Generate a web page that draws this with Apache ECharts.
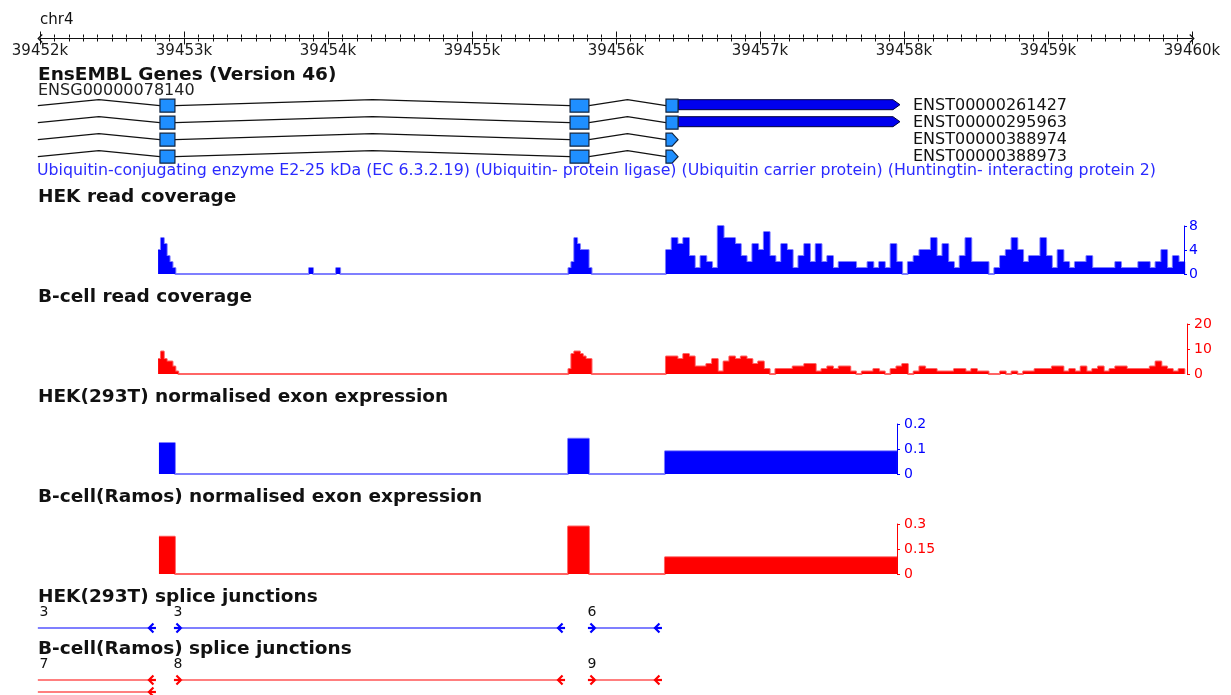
<!DOCTYPE html>
<html>
<head>
<meta charset="utf-8">
<script src="https://cdn.jsdelivr.net/npm/echarts/dist/echarts.min.js"></script>
<style>
html, body { margin: 0; padding: 0; background: #fff; }
#main { width: 1231px; height: 695px; }
</style>
</head>
<body>
<div id="main"></div>
<script>
// genomic window on chr4
var viewStart = 39452000;
var viewEnd = 39460000;

// EnsEMBL gene model
var geneId = 'ENSG00000078140';
var geneDesc = 'Ubiquitin-conjugating enzyme E2-25 kDa (EC 6.3.2.19) (Ubiquitin- protein ligase) (Ubiquitin carrier protein) (Huntingtin- interacting protein 2)';
var transcripts = ['ENST00000261427', 'ENST00000295963', 'ENST00000388974', 'ENST00000388973'];
var txStart = 39451985;
var exonStarts = [39452833, 39455681, 39456347];
var exonEnds = [39452937, 39455812, 39456431];
var utrEnds = [39457972, 39457972, null, null];

// read coverage, stored as runs of fixed-size bins
var hekCovStarts = [39452820, 39453868, 39454056, 39455670, 39456347];
var hekCovBins = [20, 28, 28, 20, 40];
var hekCovValues = [
  [4, 6, 5, 3, 2, 1],
  [1],
  [1],
  [1, 2, 6, 5, 4, 4, 4, 1],
  [4, 6, 5, 6, 3, 1, 3, 2, 1, 8, 6, 6, 5, 3, 2, 5, 4, 7, 3, 2,
   5, 4, 1, 3, 5, 2, 5, 2, 3, 1, 2, 2, 2, 1, 1, 2, 1, 2, 1, 5,
   2, 0, 2, 3, 4, 4, 6, 3, 5, 2, 1, 3, 6, 2, 2, 2, 0, 1, 3, 4,
   6, 4, 2, 3, 3, 6, 3, 1, 4, 2, 1, 2, 2, 3, 1, 1, 1, 1, 2, 1,
   1, 1, 2, 2, 1, 2, 4, 1, 3, 2]
];
var bcellCovStarts = [39452820, 39455670, 39456347];
var bcellCovBins = [20, 20, 40];
var bcellCovValues = [
  [6, 9, 6, 5, 5, 3, 1],
  [2, 8, 9, 9, 8, 7, 6, 6],
  [7, 7, 6, 8, 7, 3, 3, 4, 6, 1, 5, 7, 6, 7, 6, 4, 5, 2, 0, 2,
   2, 2, 3, 3, 4, 4, 1, 2, 3, 2, 3, 3, 1, 0, 1, 1, 2, 1, 0, 2,
   3, 4, 0, 1, 3, 2, 2, 1, 1, 1, 2, 2, 1, 2, 1, 1, 0, 0, 1, 0,
   1, 0, 1, 1, 2, 2, 2, 3, 3, 1, 2, 1, 3, 1, 2, 3, 1, 2, 3, 3,
   2, 2, 2, 2, 3, 5, 3, 2, 1, 2]
];

// normalised exon expression
var exprStarts = [39452826, 39455667, 39456340];
var exprEnds = [39452937, 39455812, 39457951];
var hekExpr = [0.124, 0.141, 0.091];
var bcellExpr = [0.224, 0.285, 0.1];

// splice junctions: [donor, acceptor, read count, stack row]
var hekJunctions = [
  [39451985, 39452826, 3, 0],
  [39452937, 39455667, 3, 0],
  [39455812, 39456340, 6, 0]
];
var bcellJunctions = [
  [39451985, 39452826, 7, 0],
  [39451985, 39452826, '-', 1],
  [39452937, 39455667, 8, 0],
  [39455812, 39456340, 9, 0]
];

var FONT = 'DejaVu Sans';
var BLUE = '#0000ff';
var RED = '#ff0000';

function stepPoints(starts, bins, values) {
  var pts = [];
  for (var r = 0; r < starts.length; r++) {
    for (var i = 0; i < values[r].length; i++) {
      pts.push([starts[r] + i * bins[r], values[r][i]]);
    }
    pts.push([starts[r] + values[r].length * bins[r], 0]);
  }
  return pts;
}

function exprPoints(vals) {
  var pts = [];
  for (var i = 0; i < vals.length; i++) {
    pts.push([exprStarts[i], vals[i]]);
    pts.push([exprEnds[i], 0]);
  }
  return pts;
}

function grid(top, height) {
  return { left: 40, width: 1152, top: top, height: height };
}

function hiddenX(g) {
  return { type: 'value', gridIndex: g, min: viewStart, max: viewEnd, show: false };
}

function trackY(g, max, interval, color, offset, margin) {
  return {
    type: 'value', gridIndex: g, min: 0, max: max, interval: interval,
    position: 'right', offset: offset,
    axisLine: { show: true, lineStyle: { color: color, width: 1 } },
    axisTick: { show: true, length: 3, lineStyle: { color: color } },
    axisLabel: { color: color, fontSize: 14, fontFamily: FONT, margin: margin },
    splitLine: { show: false }
  };
}

function heading(text, top, opts) {
  var o = opts || {};
  return {
    text: text, left: o.left || 38, top: top, padding: 0,
    textStyle: {
      fontFamily: FONT, fontSize: o.size || 18.5,
      fontWeight: o.weight || 'bold', color: o.color || '#111'
    }
  };
}

function coverageSeries(xi, yi, pts, color, lineColor) {
  return {
    type: 'line', xAxisIndex: xi, yAxisIndex: yi, data: pts, step: 'end',
    symbol: 'none', silent: true,
    lineStyle: { color: lineColor, width: 2 },
    areaStyle: { color: color, opacity: 1 }
  };
}

function renderTranscript(params, api) {
  var row = api.value(0);
  var yc = api.coord([viewStart, row])[1];
  var X = function (g) { return api.coord([g, row])[0]; };
  var kids = [];
  var prev = txStart;
  for (var k = 0; k < exonStarts.length; k++) {
    var a = X(prev), s = X(exonStarts[k]);
    kids.push({
      type: 'polyline',
      shape: { points: [[a, yc], [(a + s) / 2, yc - 6], [s, yc]] },
      style: { stroke: '#111', lineWidth: 1.2, fill: null }
    });
    prev = exonEnds[k];
  }
  var utr = utrEnds[params.dataIndex];
  if (utr) {
    var u0 = X(exonEnds[exonEnds.length - 1]), u1 = X(utr);
    kids.push({
      type: 'polygon',
      shape: { points: [[u0, yc - 6], [u1 - 7, yc - 6], [u1, yc - 1], [u1 - 7, yc + 4], [u0, yc + 4]] },
      style: { fill: '#0000ee', stroke: '#00003a', lineWidth: 1 }
    });
  }
  for (var j = 0; j < exonStarts.length; j++) {
    var x0 = X(exonStarts[j]), x1 = X(exonEnds[j]);
    var last = j === exonStarts.length - 1;
    if (last && !utr) {
      kids.push({
        type: 'polygon',
        shape: { points: [[x0, yc - 6.5], [x1 - 6, yc - 6.5], [x1, yc], [x1 - 6, yc + 6.5], [x0, yc + 6.5]] },
        style: { fill: '#1f8fff', stroke: '#12243f', lineWidth: 1.2 }
      });
    } else {
      kids.push({
        type: 'rect',
        shape: { x: x0, y: yc - 6.5, width: x1 - x0, height: 13 },
        style: { fill: '#1f8fff', stroke: '#12243f', lineWidth: 1.2 }
      });
    }
  }
  return { type: 'group', children: kids };
}

function junctionRenderer(lineColor, arrowColor) {
  return function (params, api) {
    var d = api.value(0), a = api.value(1), n = api.value(2), row = api.value(3);
    var y = api.coord([viewStart, row])[1];
    var xMin = api.coord([viewStart, row])[0];
    var xd = api.coord([d, row])[0], xa = api.coord([a, row])[0];
    var startShown = xd >= xMin;
    var lineStart = startShown ? xd + 7 : Math.max(xd, xMin - 3);
    var kids = [{
      type: 'line',
      shape: { x1: lineStart, y1: y, x2: xa - 10, y2: y },
      style: { stroke: lineColor, lineWidth: 2 }
    }, {
      type: 'polyline',
      shape: { points: [[xa - 5.5, y - 4.5], [xa - 10, y], [xa - 5.5, y + 4.5]] },
      style: { stroke: arrowColor, lineWidth: 2.2, fill: null }
    }, {
      type: 'line',
      shape: { x1: xa - 10, y1: y, x2: xa - 3, y2: y },
      style: { stroke: arrowColor, lineWidth: 2.2 }
    }];
    if (startShown) {
      kids.push({
        type: 'polyline',
        shape: { points: [[xd + 1.5, y - 4.5], [xd + 6, y], [xd + 1.5, y + 4.5]] },
        style: { stroke: arrowColor, lineWidth: 2.2, fill: null }
      }, {
        type: 'line',
        shape: { x1: xd - 1, y1: y, x2: xd + 6, y2: y },
        style: { stroke: arrowColor, lineWidth: 2.2 }
      });
    }
    if (!isNaN(n)) {
      kids.push({
        type: 'text',
        style: {
          text: String(n), x: startShown ? xd + 3 : lineStart + 6, y: y - 16,
          align: 'center', verticalAlign: 'middle',
          fill: '#111', font: '14px "DejaVu Sans"'
        }
      });
    }
    return { type: 'group', children: kids };
  };
}

var chart = echarts.init(document.getElementById('main'));

var chevron = 'path://M0,10 L10,0 L20,10 L18,12 L10,4 L2,12 Z';

chart.setOption({
  animation: false,
  backgroundColor: '#fff',
  title: [
    heading('chr4', 12.5, { size: 15, weight: 'normal', left: 40 }),
    heading('EnsEMBL Genes (Version 46)', 65.5),
    heading(geneId, 82.5, { size: 16, weight: 'normal', color: '#222' }),
    heading(geneDesc, 162.5, { size: 15.8, weight: 'normal', color: '#2a2aff', left: 37 }),
    heading('HEK read coverage', 188),
    heading('B-cell read coverage', 288),
    heading('HEK(293T) normalised exon expression', 388),
    heading('B-cell(Ramos) normalised exon expression', 488),
    heading('HEK(293T) splice junctions', 588),
    heading('B-cell(Ramos) splice junctions', 640)
  ],
  grid: [
    grid(37.5, 1),
    grid(97.2, 68),
    grid(226, 48),
    grid(324, 50),
    grid(424, 50),
    grid(524, 50),
    grid(628, 12),
    grid(680, 12)
  ],
  xAxis: [
    {
      type: 'value', gridIndex: 0, min: viewStart, max: viewEnd, interval: 1000,
      position: 'bottom',
      axisLine: {
        show: true, lineStyle: { color: '#111', width: 1 },
        symbol: [chevron, chevron], symbolSize: [9, 6]
      },
      axisTick: { show: true, length: 6, lineStyle: { color: '#111' } },
      minorTick: { show: true, splitNumber: 10, length: 3, lineStyle: { color: '#111' } },
      axisLabel: {
        margin: 5, color: '#1a1a1a', fontSize: 15, fontFamily: FONT,
        formatter: function (v) { return (v / 1000) + 'k'; }
      },
      splitLine: { show: false }
    },
    {
      type: 'value', gridIndex: 0, min: viewStart, max: viewEnd, interval: 1000,
      position: 'top',
      axisLine: { show: false },
      axisTick: { show: true, length: 6, lineStyle: { color: '#111' } },
      minorTick: { show: true, splitNumber: 10, length: 3, lineStyle: { color: '#111' } },
      axisLabel: { show: false },
      splitLine: { show: false }
    },
    hiddenX(1), hiddenX(2), hiddenX(3), hiddenX(4), hiddenX(5), hiddenX(6), hiddenX(7)
  ],
  yAxis: [
    { type: 'value', gridIndex: 0, show: false },
    {
      type: 'category', gridIndex: 1, data: transcripts, inverse: true,
      position: 'right', offset: -287,
      axisLine: { show: false }, axisTick: { show: false },
      axisLabel: { color: '#111', fontSize: 16, fontFamily: FONT, margin: 8, interval: 0 }
    },
    trackY(2, 8, 4, BLUE, -8, 5),
    trackY(3, 20, 10, RED, -5, 7),
    trackY(4, 0.2, 0.1, BLUE, -295, 7),
    trackY(5, 0.3, 0.15, RED, -295, 7),
    { type: 'value', gridIndex: 6, min: 0, max: 1, inverse: true, show: false },
    { type: 'value', gridIndex: 7, min: 0, max: 1, inverse: true, show: false }
  ],
  series: [
    {
      type: 'custom', xAxisIndex: 2, yAxisIndex: 1, silent: true,
      renderItem: renderTranscript,
      data: transcripts.map(function (t, i) { return [i]; })
    },
    coverageSeries(3, 2, stepPoints(hekCovStarts, hekCovBins, hekCovValues), BLUE, 'rgba(0,0,255,0.5)'),
    coverageSeries(4, 3, stepPoints(bcellCovStarts, bcellCovBins, bcellCovValues), RED, 'rgba(255,0,0,0.6)'),
    coverageSeries(5, 4, exprPoints(hekExpr), BLUE, 'rgba(0,0,255,0.5)'),
    coverageSeries(6, 5, exprPoints(bcellExpr), RED, 'rgba(255,0,0,0.6)'),
    {
      type: 'custom', xAxisIndex: 7, yAxisIndex: 6, silent: true,
      renderItem: junctionRenderer('rgba(0,0,255,0.5)', BLUE),
      data: hekJunctions
    },
    {
      type: 'custom', xAxisIndex: 8, yAxisIndex: 7, silent: true,
      renderItem: junctionRenderer('rgba(255,0,0,0.5)', RED),
      data: bcellJunctions
    }
  ]
});
</script>
</body>
</html>
